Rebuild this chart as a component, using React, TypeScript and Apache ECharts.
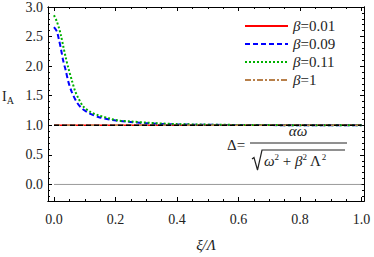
import React, { useEffect, useRef } from "react";
import * as echarts from "echarts";

// β = 0.09 (blue dashed)
const blueX = [0, 0.009, 0.016, 0.023, 0.03, 0.038, 0.047, 0.058, 0.074, 0.09, 0.112, 0.144, 0.188, 0.242, 0.3, 0.4, 0.6, 0.8, 1.0];
const blueY = [2.66, 2.59, 2.45, 2.28, 2.09, 1.93, 1.73, 1.56, 1.39, 1.29, 1.21, 1.14, 1.09, 1.06, 1.035, 1.015, 1.005, 1.002, 1.001];
// β = 0.11 (green dotted)
const greenX = [0, 0.0088, 0.016, 0.023, 0.03, 0.038, 0.047, 0.058, 0.068, 0.079, 0.095, 0.117, 0.144, 0.177, 0.21, 0.25, 0.3, 0.4, 0.6, 0.8, 1.0];
const greenY = [2.86, 2.76, 2.65, 2.51, 2.34, 2.15, 1.96, 1.76, 1.59, 1.46, 1.32, 1.23, 1.17, 1.12, 1.08, 1.065, 1.045, 1.02, 1.006, 1.002, 1.001];
// β = 0.01 and β = 1 (flat)
const flatX = [0, 1.0];
const redY = [1.0, 1.0];
const brownY = [1.0, 1.0];
const blackY = [1.0, 1.0];
const zeroY = [0, 0];

const seriesNames = ["β=0.01", "β=0.09", "β=0.11", "β=1"];

const xMajor = [0, 0.2, 0.4, 0.6, 0.8, 1.0];
const xMinor = [0.05, 0.1, 0.15, 0.25, 0.3, 0.35, 0.45, 0.5, 0.55, 0.65, 0.7, 0.75, 0.85, 0.9, 0.95];
const yMajor = [0, 0.5, 1.0, 1.5, 2.0, 2.5, 3.0];
const yMinor = [-0.2, -0.1, 0.1, 0.2, 0.3, 0.4, 0.6, 0.7, 0.8, 0.9, 1.1, 1.2, 1.3, 1.4, 1.6, 1.7, 1.8, 1.9, 2.1, 2.2, 2.3, 2.4, 2.6, 2.7, 2.8, 2.9];

const X_MIN = -0.0195;
const X_MAX = 1.008;
const Y_MIN = -0.28;
const Y_MAX = 3.0;

const FONT = "'Liberation Serif', 'Times New Roman', serif";

function zip(xs: number[], ys: number[]) {
  return xs.map((x, i) => [x, ys[i]]);
}

export default function App() {
  const ref = useRef<HTMLDivElement>(null);
  useEffect(() => {
    if (!ref.current) return;
    const chart = echarts.init(ref.current, null, { renderer: "svg" });
    const axisLine = { show: true, onZero: false, lineStyle: { color: "#000", width: 1 } };
    const mkX = (pos: "top" | "bottom", vals: number[], len: number, labels: boolean) => ({
      type: "value",
      position: pos,
      min: X_MIN,
      max: X_MAX,
      axisLine,
      splitLine: { show: false },
      axisTick: { show: true, inside: true, length: len, customValues: vals, lineStyle: { color: "#000" } },
      axisLabel: labels
        ? { show: true, customValues: vals, formatter: (v: number) => v.toFixed(1), fontFamily: FONT, fontSize: 14, color: "#222", margin: 11 }
        : { show: false },
    });
    const mkY = (pos: "left" | "right", vals: number[], len: number, labels: boolean) => ({
      type: "value",
      position: pos,
      min: Y_MIN,
      max: Y_MAX,
      axisLine,
      splitLine: { show: false },
      axisTick: { show: true, inside: true, length: len, customValues: vals, lineStyle: { color: "#000" } },
      axisLabel: labels
        ? { show: true, customValues: vals, formatter: (v: number) => v.toFixed(1), fontFamily: FONT, fontSize: 14, color: "#222", margin: 5 }
        : { show: false },
    });
    const rich = { i: { fontStyle: "italic", fontFamily: FONT, fontSize: 15, color: "#222", lineHeight: 16 } };
    chart.setOption({
      animation: false,
      grid: { left: 48, right: 10, top: 4, bottom: 56 },
      xAxis: [
        mkX("bottom", xMajor, 4, true),
        mkX("bottom", xMinor, 2, false),
        mkX("top", xMajor, 4, false),
        mkX("top", xMinor, 2, false),
      ],
      yAxis: [
        mkY("left", yMajor, 4, true),
        mkY("left", yMinor, 2, false),
        mkY("right", yMajor, 4, false),
        mkY("right", yMinor, 2, false),
      ],
      legend: {
        orient: "vertical",
        left: 244,
        top: 18,
        padding: 0,
        itemWidth: 43,
        itemHeight: 10,
        itemGap: 2,
        itemStyle: { opacity: 0, borderWidth: 0 },
        data: seriesNames,
        formatter: (name: string) => "{i|β}" + name.slice(1),
        textStyle: { fontFamily: FONT, fontSize: 15, color: "#222", lineHeight: 16, rich },
      },
      series: [
        {
          type: "line", silent: true, symbol: "none", data: zip(flatX, zeroY),
          lineStyle: { color: "#9a9a9a", width: 1 }, z: 1,
        },
        {
          name: seriesNames[0], type: "line", symbol: "none", data: zip(flatX, redY),
          lineStyle: { color: "#ff0000", width: 1.5, type: "solid" }, itemStyle: { color: "#ff0000" }, z: 2,
        },
        {
          name: seriesNames[1], type: "line", symbol: "none", data: zip(blueX, blueY), smooth: 0.3,
          lineStyle: { color: "#0000ff", width: 2, type: [5, 3] }, itemStyle: { color: "#0000ff" }, z: 3,
        },
        {
          name: seriesNames[2], type: "line", symbol: "none", data: zip(greenX, greenY), smooth: 0.3,
          lineStyle: { color: "#00b000", width: 2, type: [2, 2] }, itemStyle: { color: "#00b000" }, z: 4,
        },
        {
          name: seriesNames[3], type: "line", symbol: "none", data: zip(flatX, brownY),
          lineStyle: { color: "#b8804a", width: 1.5, type: [6, 2, 2, 2] }, itemStyle: { color: "#b8804a" }, z: 5,
        },
        {
          type: "line", silent: true, symbol: "none", data: zip(flatX, blackY),
          lineStyle: { color: "#000", width: 1.5, type: [5, 3] }, z: 6,
        },
      ],
      graphic: [
        {
          type: "text", left: 2, top: 89,
          style: {
            text: "I{s|A}", fontFamily: FONT, fontSize: 14, fill: "#222",
            rich: { s: { fontFamily: FONT, fontSize: 10, fill: "#222", padding: [8, 0, 0, 0] } },
          },
        },
        {
          type: "text", x: 206, y: 245,
          style: { text: "ξ/Λ", fontFamily: FONT, fontSize: 15, fontStyle: "italic", fill: "#222", align: "center", verticalAlign: "middle" },
        },
        {
          type: "text", x: 227, y: 145,
          style: { text: "Δ=", fontFamily: FONT, fontSize: 15, fill: "#222", verticalAlign: "middle" },
        },
        {
          type: "text", x: 298, y: 131,
          style: { text: "αω", fontFamily: FONT, fontSize: 15, fontStyle: "italic", fill: "#222", align: "center", verticalAlign: "middle" },
        },
        { type: "line", shape: { x1: 250, y1: 143, x2: 347, y2: 143 }, style: { stroke: "#222", lineWidth: 1 } },
        {
          type: "polyline",
          shape: { points: [[252, 159], [254, 157.5], [257.5, 170], [262, 150], [345, 150]] },
          style: { stroke: "#222", lineWidth: 1.2, fill: "none" },
        },
        {
          type: "text", x: 264, y: 161,
          style: {
            text: "{i|ω}{p|2} + {i|β}{p|2} Λ{p|2}",
            fontFamily: FONT, fontSize: 15, fill: "#222", verticalAlign: "middle",
            rich: {
              i: { fontFamily: FONT, fontSize: 15, fontStyle: "italic", fill: "#222" },
              p: { fontFamily: FONT, fontSize: 9, fill: "#222", padding: [0, 0, 8, 0] },
            },
          },
        },
      ],
    });
    return () => chart.dispose();
  }, []);
  return <div ref={ref} style={{ position: "absolute", left: 0, top: 0, width: 374, height: 257 }} />;
}
